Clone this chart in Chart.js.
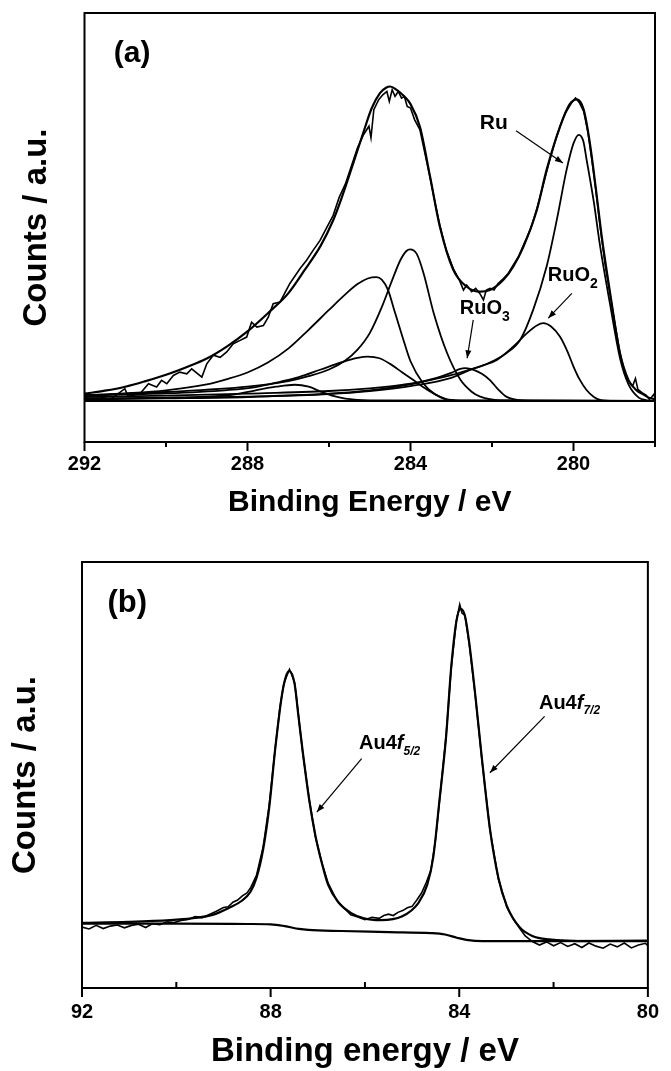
<!DOCTYPE html>
<html lang="en">
<head>
  <meta charset="UTF-8" />
  <title>XPS Ru 3d / Au 4f</title>
  <script src="https://cdn.jsdelivr.net/npm/chart.js@4.4.1/dist/chart.umd.min.js"></script>
  <style>
    html, body { margin: 0; padding: 0; background: #fff; }
    body { width: 671px; height: 1071px; position: relative; overflow: hidden; }
    .panel { position: absolute; left: 0; width: 671px; }
    #panelA { top: 0; height: 548px; }
    #panelB { top: 548px; height: 523px; }
  </style>
</head>
<body>
  <div class="panel" id="panelA"><canvas id="chartA"></canvas></div>
  <div class="panel" id="panelB"><canvas id="chartB"></canvas></div>

  <script>
    // ---------- panel (a): C 1s / Ru 3d region, [binding energy eV, counts a.u.] ----------
    const aTicksMajor = [292, 288, 284, 280];
    const aTicksMinor = [290, 286, 282, 278];

    const aRaw = [
      [292.0, 1.5], [291.6, 1.2], [291.37, 0.4], [291.01, 3.7], [290.93, 1.4], [290.64, 2.2],
      [290.43, 5.2], [290.23, 4.2], [290.11, 6.2], [289.98, 5.2], [289.82, 7.7], [289.66, 8.7],
      [289.49, 8.2], [289.37, 9.7], [289.12, 7.2], [289.0, 11.2], [288.84, 13.8], [288.67, 13.2],
      [288.51, 14.8], [288.35, 17.3], [288.18, 18.3], [288.02, 19.3], [287.9, 23.8], [287.77, 22.3],
      [287.61, 22.8], [287.49, 25.3], [287.37, 29.4], [287.2, 29.9], [286.96, 35.5], [286.71, 40.0],
      [286.55, 42.5], [286.39, 45.5], [286.22, 48.5], [286.05, 52.5], [285.9, 56], [285.75, 61.5],
      [285.6, 65.5], [285.45, 71], [285.3, 76.5], [285.15, 80.5], [285.02, 83], [284.97, 79.5],
      [284.9, 88], [284.78, 91], [284.68, 92.5], [284.58, 93.5], [284.52, 90.5], [284.45, 94],
      [284.38, 92], [284.3, 93.5], [284.22, 91.5], [284.15, 92], [284.08, 89], [284.0, 88.5],
      [283.9, 85], [283.77, 82], [283.65, 75], [283.52, 67.5], [283.4, 60], [283.28, 53],
      [283.12, 45.5], [282.95, 40], [282.8, 36.5], [282.7, 33.5], [282.62, 35], [282.5, 33],
      [282.4, 34], [282.3, 32.5], [282.21, 30.5], [282.14, 33.5], [282.05, 34], [281.95, 33.5],
      [281.85, 35.5], [281.72, 37], [281.6, 38.5], [281.48, 41], [281.35, 43.5], [281.23, 47],
      [281.05, 52], [280.9, 58], [280.75, 65], [280.6, 72], [280.45, 78.5], [280.33, 83],
      [280.2, 87], [280.05, 90], [279.95, 91.5], [279.85, 90], [279.75, 87.5], [279.65, 81.5],
      [279.55, 73], [279.45, 63.5], [279.35, 53], [279.22, 41], [279.1, 32], [278.98, 23],
      [278.86, 14.5], [278.75, 9], [278.65, 6], [278.55, 4.5], [278.48, 6.8], [278.42, 3.5],
      [278.32, 2.5], [278.22, 1.8], [278.14, 0.5], [278.08, 1.2], [278.03, 2.0], [278.0, 1.0]
    ];

    const aFit = [
      [292.0, 2.2], [291.5, 3.1], [291.0, 4.3], [290.5, 6.0], [290.0, 7.9], [289.5, 10.2],
      [289.0, 12.8], [288.5, 16.5], [288.0, 21.0], [287.5, 26.5], [287.0, 32.5], [286.6, 39.5],
      [286.2, 47.0], [285.9, 54.5], [285.7, 61.0], [285.4, 72.0], [285.16, 81.0], [284.95, 88.5],
      [284.75, 93.0], [284.6, 94.6], [284.5, 95.0], [284.34, 94.0], [284.15, 92.0], [284.01, 89.9],
      [283.77, 82.9], [283.52, 67.8], [283.28, 52.7], [282.95, 39.6], [282.62, 34.5], [282.29, 33.0],
      [282.05, 33.5], [281.72, 36.6], [281.48, 40.6], [281.23, 46.6], [280.9, 57.7], [280.66, 69.8],
      [280.33, 82.9], [280.1, 89.5], [279.92, 91.1], [279.75, 88.0], [279.6, 78.0], [279.45, 64.0],
      [279.3, 49.0], [279.1, 32.5], [278.86, 14.4], [278.65, 6.3], [278.45, 3.2], [278.29, 2.0],
      [278.12, 0.8], [278.0, 0.6]
    ];

    // Ru 3d3/2 (RuO2) component near 284.8 eV
    const aCompA = [
      [292.0, 1.7], [291.0, 2.3], [290.0, 3.2], [289.0, 5.0], [288.5, 6.6], [288.0, 8.6],
      [287.5, 11.6], [287.0, 15.8], [286.5, 21.5], [286.0, 27.5], [285.6, 32.2], [285.3, 35.3],
      [285.05, 37.0], [284.84, 37.4], [284.7, 36.6], [284.55, 33.5], [284.4, 27.5], [284.2, 19.5],
      [284.0, 12.0], [283.7, 5.5], [283.4, 2.0], [283.1, 0.5], [282.6, 0.1], [278.0, 0.0]
    ];
    // Ru 3d3/2 (metal) component at 284.0 eV
    const aCompB = [
      [292.0, 1.7], [290.0, 2.7], [288.0, 4.3], [287.0, 6.0], [286.5, 7.5], [286.0, 9.5],
      [285.6, 12.2], [285.3, 15.5], [285.0, 20.5], [284.7, 28.5], [284.45, 36.5], [284.25, 42.5],
      [284.1, 45.3], [284.01, 45.8], [283.85, 44.5], [283.68, 38.6], [283.43, 26.5], [283.1, 14.4],
      [282.77, 6.3], [282.5, 2.8], [282.29, 1.3], [281.8, 0.2], [278.0, 0.0]
    ];
    // broad component at 285.05 eV
    const aCompC = [
      [292.0, 1.7], [290.0, 2.3], [288.5, 3.3], [287.8, 4.2], [287.2, 5.8], [286.74, 7.2],
      [286.2, 9.5], [285.68, 11.7], [285.3, 13.0], [285.05, 13.4], [284.76, 12.9], [284.5, 11.2],
      [284.2, 8.6], [283.93, 6.3], [283.6, 3.5], [283.3, 1.4], [283.11, 0.4], [282.7, 0.1], [278.0, 0.0]
    ];
    // small component at 286.8 eV
    const aCompD = [
      [292.0, 0.7], [290.0, 1.0], [289.0, 1.3], [288.3, 2.0], [287.8, 3.2], [287.3, 4.3],
      [286.84, 4.9], [286.5, 4.3], [286.2, 2.8], [285.9, 1.5], [285.6, 0.7], [285.0, 0.2], [278.0, 0.0]
    ];
    // Ru 3d5/2 metallic Ru
    const aRu = [
      [292.0, 1.2], [290.0, 1.6], [288.0, 2.2], [286.0, 3.0], [285.0, 3.8], [284.5, 4.4],
      [284.0, 5.2], [283.52, 6.3], [283.0, 7.8], [282.7, 8.9], [282.29, 10.4], [281.95, 12.2],
      [281.65, 14.4], [281.31, 18.4], [280.99, 27.5], [280.66, 40.6], [280.41, 54.7], [280.17, 69.8],
      [280.0, 77.8], [279.87, 80.4], [279.76, 78.5], [279.68, 73.0], [279.5, 60.0], [279.35, 47.0],
      [279.1, 29.0], [278.86, 13.0], [278.65, 5.0], [278.4, 1.0], [278.2, 0.2], [278.0, 0.0]
    ];
    // Ru 3d5/2 RuO2
    const aRuO2 = [
      [292.0, 0.6], [290.0, 0.9], [288.0, 1.3], [286.0, 2.1], [285.0, 3.0], [284.0, 4.5],
      [283.0, 7.0], [282.54, 9.4], [282.2, 10.8], [281.88, 12.4], [281.48, 16.4], [281.14, 20.5],
      [280.9, 22.8], [280.74, 23.5], [280.55, 22.5], [280.33, 19.4], [280.15, 15.0], [280.0, 10.4],
      [279.85, 6.5], [279.68, 3.3], [279.5, 1.2], [279.35, 0.3], [279.0, 0.0], [278.0, 0.0]
    ];
    // Ru 3d5/2 RuO3
    const aRuO3 = [
      [292.0, 0.5], [290.0, 0.8], [288.0, 1.2], [286.0, 2.2], [285.0, 3.2], [284.0, 5.0],
      [283.5, 6.5], [283.0, 8.5], [282.8, 9.6], [282.65, 9.9], [282.45, 9.4], [282.25, 8.2],
      [282.05, 6.3], [281.85, 3.5], [281.65, 1.3], [281.3, 0.2], [280.8, 0.0], [278.0, 0.0]
    ];
    const aBase = [[292.0, 0.0], [278.0, 0.0]];

    // ---------- panel (b): Au 4f region ----------
    const bTicksMajor = [92, 88, 84, 80];
    const bTicksMinor = [90, 86, 82];

    const bRaw = [
      [92.0, 17.3], [91.85, 16.8], [91.7, 17.8], [91.55, 16.9], [91.4, 17.6], [91.25, 17.9],
      [91.1, 17.1], [90.95, 17.8], [90.8, 18.1], [90.65, 17.2], [90.5, 18.3], [90.35, 18.0],
      [90.2, 18.8], [90.05, 18.6], [89.9, 19.2], [89.75, 19.5], [89.6, 20.3], [89.45, 20.0],
      [89.3, 20.9], [89.15, 21.8], [89.0, 22.9], [88.9, 23.1], [88.8, 24.4], [88.7, 25.0],
      [88.6, 26.2], [88.5, 27.0], [88.42, 28.6], [88.3, 32.0], [88.16, 40.0], [88.03, 52.0],
      [87.9, 68.5], [87.8, 80.0], [87.72, 86.5], [87.65, 89.0], [87.6, 90.6], [87.55, 89.0],
      [87.49, 86.8], [87.41, 77.5], [87.32, 67.0], [87.18, 53.5], [87.05, 43.0], [86.91, 35.5],
      [86.78, 29.8], [86.6, 25.0], [86.45, 22.8], [86.3, 20.8], [86.15, 20.2], [86.0, 19.4],
      [85.85, 20.1], [85.7, 19.8], [85.6, 20.6], [85.5, 21.0], [85.4, 20.6], [85.3, 21.5],
      [85.2, 22.0], [85.1, 22.8], [85.0, 23.2], [84.9, 25.0], [84.8, 27.0], [84.7, 30.0],
      [84.6, 33.5], [84.5, 42.5], [84.42, 53.0], [84.28, 71.5], [84.17, 91.0], [84.06, 104.5],
      [83.99, 109.0], [83.94, 106.5], [83.88, 106.0], [83.79, 98.0], [83.66, 83.0], [83.52, 65.0],
      [83.35, 45.0], [83.17, 31.0], [82.99, 23.0], [82.85, 19.5], [82.72, 17.0], [82.6, 14.8],
      [82.45, 13.2], [82.3, 12.2], [82.15, 13.1], [82.0, 12.0], [81.85, 12.9], [81.7, 11.8],
      [81.55, 12.6], [81.4, 11.5], [81.25, 12.8], [81.1, 11.9], [80.95, 11.3], [80.8, 12.5],
      [80.65, 11.7], [80.5, 12.8], [80.35, 11.4], [80.2, 12.2], [80.05, 12.7], [80.0, 12.0]
    ];

    const bFit = [
      [92.0, 18.5], [91.02, 18.8], [90.13, 19.3], [89.68, 19.8], [89.23, 20.8], [88.88, 22.8],
      [88.61, 24.8], [88.43, 27.3], [88.3, 31.3], [88.16, 39.3], [88.03, 51.3], [87.9, 68.3],
      [87.76, 83.3], [87.67, 88.8], [87.6, 90.1], [87.49, 86.3], [87.41, 77.3], [87.32, 67.3],
      [87.18, 53.3], [87.05, 43.3], [86.91, 35.3], [86.78, 29.3], [86.56, 24.3], [86.29, 21.3],
      [86.02, 19.8], [85.67, 19.3], [85.22, 20.3], [84.86, 24.3], [84.68, 29.3], [84.55, 37.3],
      [84.42, 53.3], [84.28, 71.3], [84.17, 91.3], [84.06, 104.3], [83.97, 107.8], [83.88, 105.8],
      [83.79, 98.3], [83.66, 83.3], [83.52, 65.3], [83.35, 45.3], [83.17, 31.3], [82.99, 23.3],
      [82.72, 17.3], [82.45, 14.8], [82.1, 13.8], [81.2, 13.3], [80.0, 13.3]
    ];

    const bBackground = [
      [92.0, 18.3], [90.0, 18.3], [88.5, 18.2], [88.0, 18.1], [87.7, 17.6], [87.4, 16.8],
      [87.2, 16.5], [86.5, 16.2], [85.5, 15.9], [84.6, 15.6], [84.3, 15.2], [84.05, 14.3],
      [83.85, 13.7], [83.5, 13.3], [82.0, 13.3], [80.0, 13.5]
    ];

    // ---------- drawing helpers ----------
    const FONT = '"Liberation Sans", Arial, Helvetica, sans-serif';
    const toXY = pts => pts.map(([x, y]) => ({ x, y }));

    function curve(pts, width, smooth) {
      return {
        data: toXY(pts),
        borderColor: '#000',
        borderWidth: width,
        pointRadius: 0,
        fill: false,
        tension: 0,
        cubicInterpolationMode: smooth ? 'monotone' : 'default'
      };
    }

    // box around the plot and the x-axis tick marks
    const framePlugin = {
      id: 'frame',
      afterDatasetsDraw(chart, args, o) {
        const { ctx, chartArea: a } = chart;
        const x = chart.scales.x;
        ctx.save();
        ctx.strokeStyle = '#000';
        ctx.lineWidth = 2;
        ctx.strokeRect(a.left, a.top, a.right - a.left, a.bottom - a.top);
        ctx.beginPath();
        o.major.forEach(v => {
          const p = x.getPixelForValue(v);
          ctx.moveTo(p, a.bottom);
          ctx.lineTo(p, a.bottom + o.majorLen);
        });
        o.minor.forEach(v => {
          const p = x.getPixelForValue(v);
          ctx.moveTo(p, a.bottom);
          ctx.lineTo(p, a.bottom + o.minorLen);
        });
        ctx.stroke();
        ctx.restore();
      }
    };

    // panel letters, peak labels and arrows (positions in data units)
    const notePlugin = {
      id: 'notes',
      afterDatasetsDraw(chart, args, o) {
        const { ctx } = chart;
        const x = chart.scales.x, y = chart.scales.y;
        ctx.save();
        ctx.fillStyle = '#000';
        ctx.strokeStyle = '#000';
        ctx.textBaseline = 'middle';
        ctx.textAlign = 'left';
        o.labels.forEach(t => {
          let px = x.getPixelForValue(t.x);
          const py = y.getPixelForValue(t.y);
          t.parts.forEach(p => {
            ctx.font = (p.italic ? 'italic ' : '') + 'bold ' + p.size + 'px ' + FONT;
            ctx.fillText(p.text, px, py + (p.dy || 0));
            px += ctx.measureText(p.text).width;
          });
        });
        ctx.lineWidth = 1.2;
        o.arrows.forEach(ar => {
          const x0 = x.getPixelForValue(ar.from[0]), y0 = y.getPixelForValue(ar.from[1]);
          const x1 = x.getPixelForValue(ar.to[0]), y1 = y.getPixelForValue(ar.to[1]);
          const ang = Math.atan2(y1 - y0, x1 - x0);
          ctx.beginPath();
          ctx.moveTo(x0, y0);
          ctx.lineTo(x1, y1);
          ctx.stroke();
          ctx.beginPath();
          ctx.moveTo(x1, y1);
          ctx.lineTo(x1 - 8 * Math.cos(ang) + 3 * Math.sin(ang), y1 - 8 * Math.sin(ang) - 3 * Math.cos(ang));
          ctx.lineTo(x1 - 8 * Math.cos(ang) - 3 * Math.sin(ang), y1 - 8 * Math.sin(ang) + 3 * Math.cos(ang));
          ctx.closePath();
          ctx.fill();
        });
        ctx.restore();
      }
    };

    function makeChart(id, cfg) {
      return new Chart(document.getElementById(id), {
        type: 'line',
        data: { datasets: cfg.datasets },
        plugins: [framePlugin, notePlugin],
        options: {
          responsive: true,
          maintainAspectRatio: false,
          animation: false,
          events: [],
          layout: { padding: cfg.padding },
          plugins: {
            legend: { display: false },
            tooltip: { enabled: false },
            frame: cfg.frame,
            notes: cfg.notes
          },
          scales: {
            x: {
              type: 'linear',
              reverse: true,
              min: cfg.xMin,
              max: cfg.xMax,
              afterFit: s => { s.height = cfg.xHeight; },
              grid: { display: false, drawTicks: false },
              border: { display: false },
              ticks: {
                stepSize: 2,
                autoSkip: false,
                maxRotation: 0,
                padding: cfg.tickPad,
                color: '#000',
                font: { family: FONT, size: 20, weight: 'bold' },
                callback: v => (v % 4 === 0 ? String(v) : '')
              },
              title: {
                display: true,
                text: cfg.xTitle,
                color: '#000',
                font: { family: FONT, size: cfg.xTitleSize, weight: 'bold', lineHeight: 1 },
                padding: { top: 0, bottom: cfg.xTitlePad }
              }
            },
            y: {
              type: 'linear',
              min: cfg.yMin,
              max: cfg.yMax,
              afterFit: s => { s.width = cfg.yWidth; },
              grid: { display: false, drawTicks: false },
              border: { display: false },
              ticks: { display: false },
              title: {
                display: true,
                text: 'Counts / a.u.',
                color: '#000',
                font: { family: FONT, size: 33, weight: 'bold', lineHeight: 1 },
                padding: { top: cfg.yTitlePad, bottom: 0 }
              }
            }
          }
        }
      });
    }

    makeChart('chartA', {
      datasets: [
        curve(aBase, 2, false),
        curve(aCompD, 1.8, true),
        curve(aCompC, 1.8, true),
        curve(aCompA, 1.8, true),
        curve(aCompB, 1.8, true),
        curve(aRuO3, 1.8, true),
        curve(aRuO2, 1.8, true),
        curve(aRu, 1.8, true),
        curve(aRaw, 1.6, false),
        curve(aFit, 2.2, true)
      ],
      padding: { top: 13, right: 16, bottom: 0, left: 0 },
      xMin: 278, xMax: 292, yMin: -12.4, yMax: 117.2,
      xHeight: 106, yWidth: 84.5, tickPad: 10,
      xTitle: 'Binding Energy / eV', xTitleSize: 30, xTitlePad: 30, yTitlePad: 20,
      frame: { major: aTicksMajor, minor: aTicksMinor, majorLen: 9, minorLen: 5 },
      notes: {
        labels: [
          { x: 291.28, y: 104.8, parts: [{ text: '(a)', size: 30 }] },
          { x: 282.30, y: 83.8, parts: [{ text: 'Ru', size: 21 }] },
          { x: 280.63, y: 37.8, parts: [{ text: 'RuO', size: 20 }, { text: '2', size: 14, dy: 8 }] },
          { x: 282.79, y: 27.8, parts: [{ text: 'RuO', size: 20 }, { text: '3', size: 14, dy: 8 }] }
        ],
        arrows: [
          { from: [281.41, 81.6], to: [280.26, 71.9] },
          { from: [280.04, 32.5], to: [280.62, 25.0] },
          { from: [282.46, 24.5], to: [282.61, 12.9] }
        ]
      }
    });

    makeChart('chartB', {
      datasets: [
        curve(bBackground, 2.2, true),
        curve(bRaw, 1.6, false),
        curve(bFit, 2.2, true)
      ],
      padding: { top: 14, right: 13, bottom: 0, left: 0 },
      xMin: 80, xMax: 92, yMin: 0, yMax: 121.1,
      xHeight: 83, yWidth: 82, tickPad: 12,
      xTitle: 'Binding energy / eV', xTitleSize: 33, xTitlePad: 3, yTitlePad: 9,
      frame: { major: bTicksMajor, minor: bTicksMinor, majorLen: 9, minorLen: -6 },
      notes: {
        labels: [
          { x: 91.46, y: 109.4, parts: [{ text: '(b)', size: 31 }] },
          { x: 86.125, y: 69.4, parts: [{ text: 'Au4', size: 20 }, { text: 'f', size: 20, italic: true }, { text: '5/2', size: 12, italic: true, dy: 8 }] },
          { x: 82.31, y: 81.0, parts: [{ text: 'Au4', size: 20 }, { text: 'f', size: 20, italic: true }, { text: '7/2', size: 12, italic: true, dy: 8 }] }
        ],
        arrows: [
          { from: [86.07, 65.2], to: [87.02, 50.0] },
          { from: [82.19, 77.2], to: [83.35, 61.2] }
        ]
      }
    });
  </script>
</body>
</html>
